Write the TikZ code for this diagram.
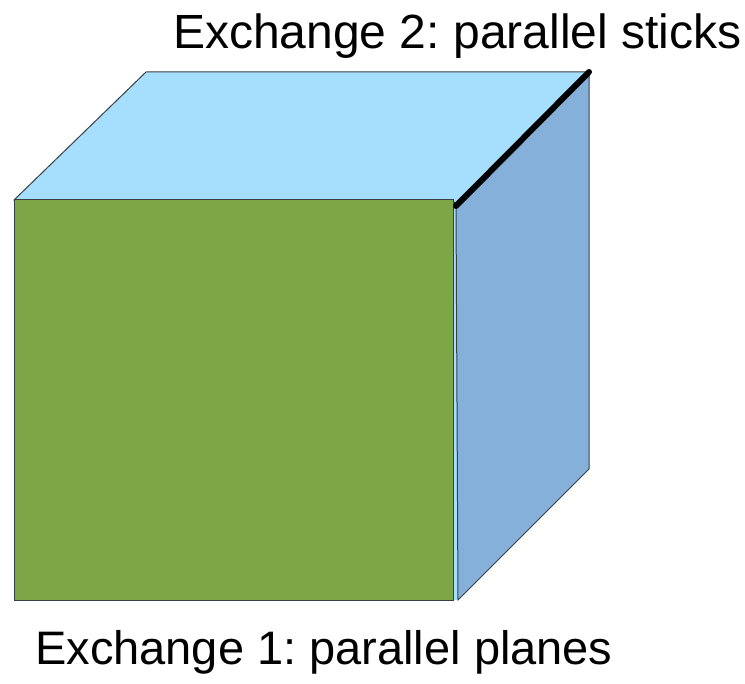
\documentclass[tikz,border=0pt]{standalone}
\usepackage{fontspec}
\setmainfont{Liberation Sans}
\frenchspacing
\definecolor{topc}{HTML}{A6DFFD}
\definecolor{sidec}{HTML}{84B0DA}
\definecolor{frontc}{HTML}{7EA646}
\definecolor{edgec}{HTML}{3A3F44}
\begin{document}
\begin{tikzpicture}[x=1pt,y=-1pt,
  face/.style={draw=edgec,line width=1pt,line join=miter},
  lbl/.style={inner sep=0pt,anchor=base west}]
\useasboundingbox (0,0) rectangle (745,684);
\coordinate (A) at (14,200);
\coordinate (B) at (146,72);
\coordinate (C) at (589,72);
\coordinate (D) at (456,206);
\coordinate (E) at (458,600);
\coordinate (F) at (589,469);
\fill[topc] (453,200) rectangle (458,600);
\draw[face,fill=topc] (A) -- (B) -- (C) -- (D) -- (453,200) -- cycle;
\draw[face,fill=sidec] (D) -- (C) -- (F) -- (E) -- cycle;
\draw[face,fill=frontc] (14,200) rectangle (453,600);
\draw[line width=6pt,line cap=round] (D) -- (C);
\node[lbl,font=\fontsize{48}{56}\selectfont] (t2) at (173,49) {Exchange 2: parallel sticks};
\node[lbl,font=\fontsize{47}{56}\selectfont] (t1) at (35,664) {Exchange 1: parallel planes};
\end{tikzpicture}
\end{document}
